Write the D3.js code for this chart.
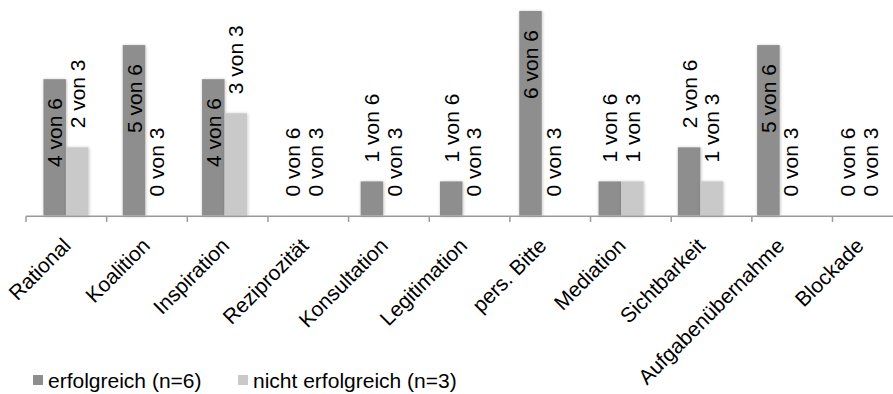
<!DOCTYPE html>
<html>
<head>
<meta charset="utf-8">
<script src="https://cdn.jsdelivr.net/npm/d3@7/dist/d3.min.js"></script>
<style>
  html, body { margin: 0; padding: 0; background: #fff; }
  svg { display: block; font-family: "Liberation Sans", Arial, sans-serif; }
</style>
</head>
<body>
<svg id="chart" width="893" height="394"></svg>
<script>
// Influence tactics: how often each was used in successful vs. unsuccessful cases
const categories = ["Rational", "Koalition", "Inspiration", "Reziprozität", "Konsultation",
  "Legitimation", "pers. Bitte", "Mediation", "Sichtbarkeit", "Aufgabenübernahme", "Blockade"];
const erfolgreich = [4, 5, 4, 0, 1, 1, 6, 1, 2, 5, 0];
const nichtErfolgreich = [2, 0, 3, 0, 0, 0, 0, 1, 1, 0, 0];
const seriesNames = ["erfolgreich (n=6)", "nicht erfolgreich (n=3)"];
const seriesTotals = [6, 3];
const seriesColors = ["#8e8e8e", "#c9c9c9"];

const svg = d3.select("#chart");
const fontSize = 21;

// Scales
const y = d3.scaleLinear().domain([0, 6]).range([215.5, 11]);
const xGroup = d3.scaleBand().domain(categories).range([26.3, 26.3 + 11 * 79.3]).paddingInner(0).paddingOuter(0);
const xTick = d3.scaleBand().domain(categories).range([26, 26 + 11 * 80.65]);
const barW = 22.5;
const xSeries = d3.scaleBand().domain([0, 1]).range([0, 2 * barW]);
const groupOffset = (xGroup.bandwidth() - 2 * barW) / 2;

// Soft shadow under the bars
const defs = svg.append("defs");
const f = defs.append("filter").attr("id", "shadow").attr("x", "-30%").attr("y", "-10%")
  .attr("width", "160%").attr("height", "120%");
f.append("feDropShadow").attr("dx", 0.5).attr("dy", 0.5).attr("stdDeviation", 1.4)
  .attr("flood-color", "#000").attr("flood-opacity", 0.28);

const seriesData = [erfolgreich, nichtErfolgreich];

// Bars
const bars = svg.append("g");
seriesData.forEach((vals, s) => {
  bars.selectAll(null)
    .data(categories.map((c, i) => ({ c, v: vals[i] })).filter(d => d.v > 0))
    .enter().append("rect")
    .attr("x", d => xGroup(d.c) + groupOffset + xSeries(s))
    .attr("y", d => y(d.v))
    .attr("width", barW)
    .attr("height", d => y(0) - y(d.v))
    .attr("fill", seriesColors[s])
    .attr("filter", "url(#shadow)");
});

// Category axis
const axis = svg.append("g").attr("stroke", "#9a9a9a").attr("stroke-width", 1.5);
axis.append("line").attr("x1", xTick.range()[0]).attr("x2", 893)
  .attr("y1", 216.2).attr("y2", 216.2);
axis.selectAll(null).data(categories).enter().append("line")
  .attr("x1", d => xTick(d)).attr("x2", d => xTick(d))
  .attr("y1", 216.2).attr("y2", 222);

svg.append("g").selectAll("text").data(categories).enter().append("text")
  .attr("transform", d => `translate(${xGroup(d) + xGroup.bandwidth() / 2 + 6},247) rotate(-45)`)
  .attr("text-anchor", "end")
  .attr("font-size", fontSize)
  .attr("fill", "#000")
  .text(d => d);

// Value labels, rotated; placed above the bar unless they would run off the top
const labels = svg.append("g").attr("font-size", fontSize).attr("fill", "#000");
seriesData.forEach((vals, s) => {
  categories.forEach((c, i) => {
    const v = vals[i];
    const cx = xGroup(c) + groupOffset + xSeries(s) + barW / 2;
    const t = labels.append("text")
      .attr("dy", "0.36em")
      .text(`${v} von ${seriesTotals[s]}`);
    const len = t.node().getComputedTextLength();
    const gap = 19;
    let yy, anchor;
    if (y(v) - gap - len >= 0) { yy = y(v) - gap; anchor = "start"; }
    else { yy = y(v) + gap; anchor = "end"; }
    t.attr("text-anchor", anchor)
      .attr("transform", `translate(${cx},${yy}) rotate(-90)`);
  });
});

// Legend
const legend = svg.append("g").attr("font-size", fontSize);
const legendX = [33, 238];
seriesNames.forEach((name, s) => {
  legend.append("rect").attr("x", legendX[s]).attr("y", 375).attr("width", 10).attr("height", 10)
    .attr("fill", seriesColors[s]);
  legend.append("text").attr("x", legendX[s] + 15).attr("y", 388).attr("fill", "#000").text(name);
});
</script>
</body>
</html>
